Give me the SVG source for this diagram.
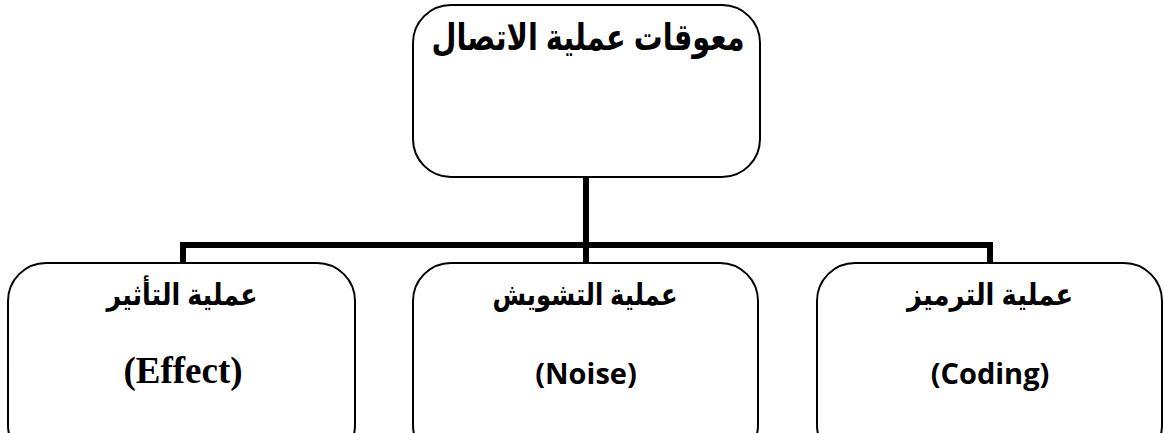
<svg xmlns="http://www.w3.org/2000/svg" width="1165" height="433" viewBox="0 0 1165 433">
  <style>
    .box { fill: #ffffff; stroke: #000000; stroke-width: 2; }
    .link { fill: none; stroke: #000000; stroke-width: 6; stroke-linejoin: miter; }
    .ar { font-family: "Liberation Sans", "DejaVu Sans", sans-serif; font-weight: bold; text-anchor: middle; fill: #000; }
    .title { font-size: 37px; }
    .label { font-size: 30px; }
    .en-serif { font-family: "Liberation Serif", serif; font-weight: bold; font-size: 37px; text-anchor: middle; fill: #000; }
    .en-sans { font-family: "Open Sans", "Liberation Sans", sans-serif; font-weight: bold; font-size: 29px; text-anchor: middle; fill: #000; }
  </style>
  <rect width="1165" height="433" fill="#ffffff"/>

  <!-- connectors: trunk, bus and drops -->
  <g id="connectors">
    <line class="link" x1="586" y1="177" x2="586" y2="264"/>
    <polyline class="link" points="183,264 183,245 990,245 990,264"/>
  </g>

  <g id="root">
    <rect class="box" x="413" y="5" width="347" height="172" rx="38" ry="38"/>
    <text class="ar title" x="588" y="50" direction="rtl" textLength="313" lengthAdjust="spacingAndGlyphs">معوقات عملية الاتصال</text>
  </g>

  <g id="effect">
    <rect class="box" x="8" y="263" width="347" height="200" rx="38" ry="38"/>
    <text class="ar label" x="182" y="305" direction="rtl" textLength="151" lengthAdjust="spacingAndGlyphs">عملية التأثير</text>
    <text class="en-serif" x="183" y="383">(Effect)</text>
  </g>

  <g id="noise">
    <rect class="box" x="413" y="263" width="345" height="200" rx="38" ry="38"/>
    <text class="ar label" x="585" y="305" direction="rtl" textLength="185" lengthAdjust="spacingAndGlyphs">عملية التشويش</text>
    <text class="en-sans" x="586" y="384">(Noise)</text>
  </g>

  <g id="coding">
    <rect class="box" x="817" y="263" width="345" height="200" rx="38" ry="38"/>
    <text class="ar label" x="990" y="305" direction="rtl" textLength="166" lengthAdjust="spacingAndGlyphs">عملية الترميز</text>
    <text class="en-sans" x="990" y="384">(Coding)</text>
  </g>
</svg>
